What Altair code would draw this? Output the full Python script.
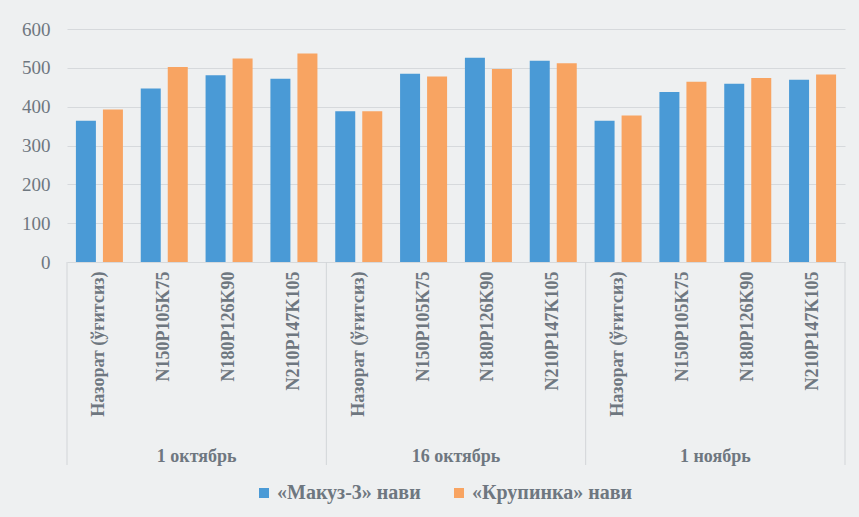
import altair as alt
import pandas as pd

groups = ["1 октябрь", "16 октябрь", "1 ноябрь"]
treatments = ["Назорат (ўғитсиз)", "N150P105K75", "N180P126K90", "N210P147K105"]
series = ["«Макуз-3» нави", "«Крупинка» нави"]
makuz = [364, 447, 481, 472, 388, 485, 526, 518, 364, 438, 459, 469]
krupinka = [393, 502, 524, 537, 388, 478, 497, 512, 377, 464, 474, 483]
colors = ["#4a9ad6", "#f8a462"]

W, H = 778, 233
band = W / 12
font = "Liberation Serif"
gray = "#6e7780"

keys = [f"{g}|{t}" for g in groups for t in treatments]
rows = []
for i, k in enumerate(keys):
    rows.append({"key": k, "series": series[0], "value": makuz[i]})
    rows.append({"key": k, "series": series[1], "value": krupinka[i]})
df = pd.DataFrame(rows)

xscale = alt.Scale(domain=keys, paddingInner=0, paddingOuter=0)

bars = alt.Chart(df).mark_bar(width=20).encode(
    x=alt.X("key:N", scale=xscale, sort=keys, title=None,
            axis=alt.Axis(labelExpr="split(datum.value, '|')[1]", labelAngle=270,
                          labelFont=font, labelFontWeight="bold", labelFontSize=18,
                          labelColor=gray, labelPadding=9, ticks=False, domain=False,
                          grid=False, labelLimit=300)),
    xOffset=alt.XOffset("series:N", sort=series,
                        scale=alt.Scale(paddingInner=0.26, paddingOuter=0.33)),
    y=alt.Y("value:Q", scale=alt.Scale(domain=[0, 600]), title=None,
            axis=alt.Axis(values=[0, 100, 200, 300, 400, 500, 600], labelFont=font,
                          labelFontSize=19, labelColor=gray, ticks=False, domain=False,
                          labelPadding=17, gridColor="#d6d9dc", gridWidth=1)),
    color=alt.Color("series:N", sort=series, scale=alt.Scale(domain=series, range=colors),
                    legend=alt.Legend(title=None, orient="none", direction="horizontal",
                                      legendX=187, legendY=454, symbolType="square",
                                      symbolSize=100, symbolStrokeWidth=0, labelFont=font,
                                      labelFontWeight="bold", labelFontSize=20,
                                      labelColor=gray, columnPadding=28, labelLimit=300,
                                      labelOffset=3)),
)

gdf = pd.DataFrame({"group": groups, "key": [f"{g}|{treatments[1]}" for g in groups]})
glabels = alt.Chart(gdf).mark_text(dx=band / 2, font=font, fontWeight="bold", fontSize=18,
                                   color=gray, baseline="middle").encode(
    x=alt.X("key:N", scale=xscale, sort=keys),
    y=alt.value(H + 195),
    text="group:N",
)

sep_left = pd.DataFrame({"key": [f"{g}|{treatments[0]}" for g in groups]})
sep_right = pd.DataFrame({"key": [f"{groups[-1]}|{treatments[-1]}"]})
rules_l = alt.Chart(sep_left).mark_rule(xOffset=-band / 2, color="#d2d5d8", strokeWidth=1).encode(
    x=alt.X("key:N", scale=xscale, sort=keys), y=alt.value(H), y2=alt.value(H + 203))
rules_r = alt.Chart(sep_right).mark_rule(xOffset=band / 2, color="#d2d5d8", strokeWidth=1).encode(
    x=alt.X("key:N", scale=xscale, sort=keys), y=alt.value(H), y2=alt.value(H + 203))

chart = alt.layer(bars, rules_l, rules_r, glabels).properties(
    width=W, height=H,
    autosize=alt.AutoSizeParams(type="none"),
    padding={"left": 67, "top": 29, "right": 14, "bottom": 255},
    background="#eef0f1",
).configure_view(stroke=None)

chart.save("out.html", embed_options={"renderer": "svg", "actions": False})
